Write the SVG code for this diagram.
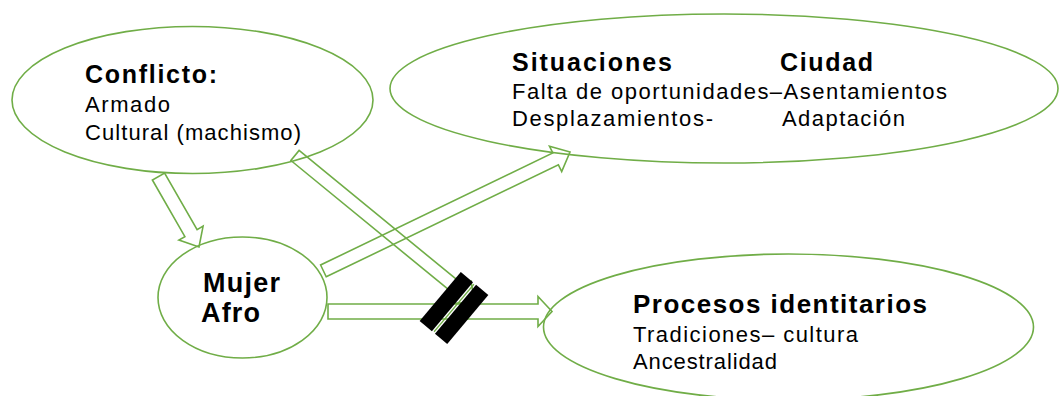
<svg xmlns="http://www.w3.org/2000/svg" width="1061" height="396" viewBox="0 0 1061 396">
  <style>
    .shape { fill: #ffffff; stroke: #70AD47; stroke-width: 1.6; }
    .arrow { fill: none; stroke: #70AD47; stroke-width: 1.6; stroke-linejoin: miter; }
    .head { font-family: "Liberation Sans", Arial, sans-serif; font-weight: bold; font-size: 25px; fill: #000; }
    .body { font-family: "Liberation Sans", Arial, sans-serif; font-size: 22px; fill: #000; }
  </style>
  <rect width="1061" height="396" fill="#ffffff"/>

  <g id="node-conflicto">
    <ellipse class="shape" cx="192.5" cy="100" rx="180.5" ry="73.5"/>
    <text class="head" x="85" y="83" textLength="132" lengthAdjust="spacing">Conflicto:</text>
    <text class="body" x="85" y="112" textLength="85" lengthAdjust="spacing">Armado</text>
    <text class="body" x="85" y="140" textLength="216" lengthAdjust="spacing">Cultural (machismo)</text>
  </g>

  <g id="node-situaciones">
    <ellipse class="shape" cx="724" cy="88.5" rx="334" ry="74.5"/>
    <text class="head" x="512" y="71" textLength="160" lengthAdjust="spacing">Situaciones</text>
    <text class="head" x="780" y="71" textLength="93" lengthAdjust="spacing">Ciudad</text>
    <text class="body" x="512" y="99" textLength="435" lengthAdjust="spacing">Falta de oportunidades–Asentamientos</text>
    <text class="body" x="512" y="126" textLength="201" lengthAdjust="spacing">Desplazamientos-</text>
    <text class="body" x="782" y="126" textLength="123" lengthAdjust="spacing">Adaptación</text>
  </g>

  <g id="node-mujer">
    <ellipse class="shape" cx="242.5" cy="297.5" rx="84.5" ry="60.5"/>
    <text class="head" x="203" y="292" style="font-size:27px" textLength="77" lengthAdjust="spacing">Mujer</text>
    <text class="head" x="201" y="322" style="font-size:27px" textLength="59" lengthAdjust="spacing">Afro</text>
  </g>

  <g id="node-procesos">
    <ellipse class="shape" cx="788.5" cy="327" rx="245" ry="73"/>
    <text class="head" x="633" y="313" style="font-size:26px" textLength="294" lengthAdjust="spacing">Procesos identitarios</text>
    <text class="body" x="633" y="342" textLength="225" lengthAdjust="spacing">Tradiciones– cultura</text>
    <text class="body" x="633" y="369" textLength="144" lengthAdjust="spacing">Ancestralidad</text>
  </g>

  <g id="connectors">
    <polygon class="arrow" points="152.4,180 184.9,236.6 178.9,240.1 199,247 203.1,226.1 197.1,229.6 164.6,173"/>
    <polygon class="arrow" points="290.9,160.5 458.1,297.4 453.3,303.2 474.6,302.6 471.1,281.6 466.3,287.4 299.1,150.5"/>
    <polygon class="arrow" points="326.2,276.8 558.4,164.8 561.7,171.5 570,152 549.5,146.3 552.8,153 320.6,265"/>
    <polygon class="arrow" points="328,304 538,304 538,296.5 552,311.5 538,326.5 538,319 328,319"/>
  </g>

  <g id="block-mark" transform="translate(454,308) rotate(40)">
    <rect x="-18" y="-32" width="16" height="64" fill="#000"/>
    <rect x="2" y="-32" width="16" height="64" fill="#000"/>
    <line x1="0" y1="-31" x2="0" y2="31" stroke="#70AD47" stroke-width="1.2"/>
  </g>
</svg>
